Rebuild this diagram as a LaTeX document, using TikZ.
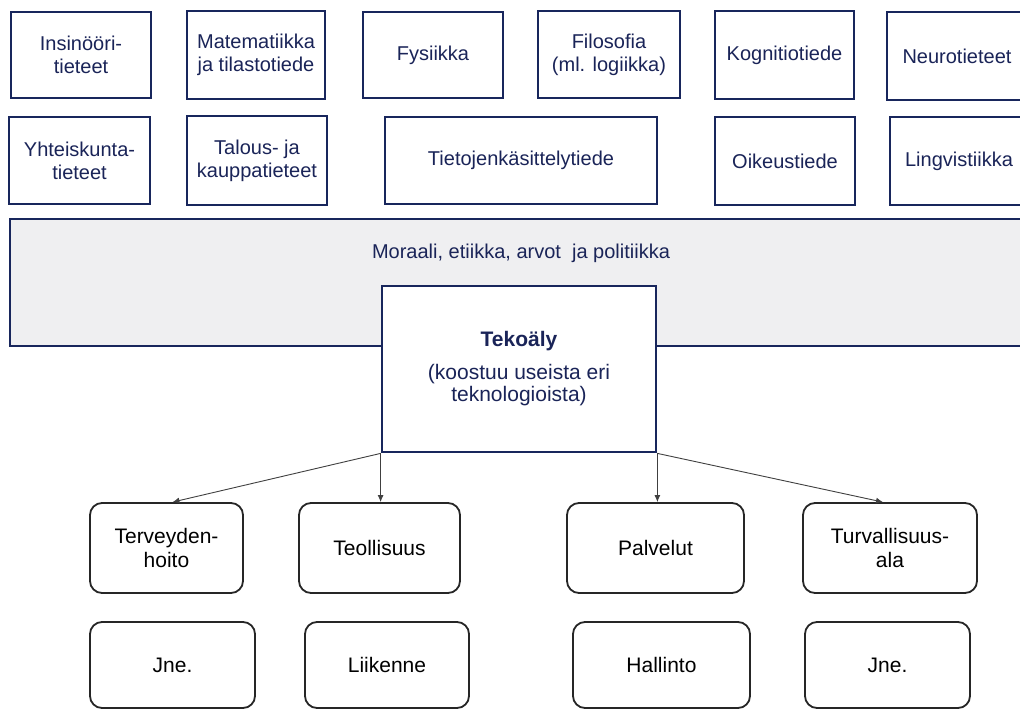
\documentclass[tikz,border=0pt]{standalone}
\usepackage{fontspec}
\setmainfont{Liberation Sans}
\usetikzlibrary{arrows.meta,calc}
\definecolor{navy}{RGB}{24,38,92}
\definecolor{navytext}{RGB}{26,36,88}
\definecolor{bandgray}{RGB}{239,239,241}
\tikzset{
  sci/.style={draw=navy, line width=2.8pt, fill=white, text=navytext, align=center,
    font=\fontsize{20}{23}\selectfont, inner sep=0pt},
  band/.style={draw=navy, line width=2.6pt, fill=bandgray, inner sep=0pt},
  bandtext/.style={text=navytext, font=\fontsize{20}{23}\selectfont, inner sep=0pt},
  core/.style={draw=navy, line width=2.8pt, fill=white, text=navytext, align=center,
    font=\fontsize{21}{22}\selectfont, inner sep=0pt},
  field/.style={draw=black!85, line width=1.8pt, rounded corners=12pt, fill=white, text=black,
    align=center, font=\fontsize{21}{24}\selectfont, inner sep=0pt},
  arr/.style={-{Latex[length=7pt,width=6pt]}, line width=0.9pt, draw=black!75}
}
\begin{document}
\begin{tikzpicture}[x=1pt,y=-1pt]
\useasboundingbox (0,0) rectangle (1020,709);
\clip (0,0) rectangle (1020,709);
\fill[white] (0,0) rectangle (1020,709);
% top row
\node[sci, minimum width=140, minimum height=86] (a1) at (81,55) {Insinööri-\\tieteet};
\node[sci, minimum width=138, minimum height=88] (a2) at (256,55) {Matematiikka\\ja tilastotiede};
\node[sci, minimum width=140, minimum height=86] (a3) at (433,55) {Fysiikka};
\node[sci, minimum width=142, minimum height=87] (a4) at (609,54.5) {Filosofia\\(ml. logiikka)};
\node[sci, minimum width=139, minimum height=88] (a5) at (784.5,55) {Kognitiotiede};
\node[sci, minimum width=140, minimum height=88] (a6) at (957,56) {Neurotieteet};
% second row
\node[sci, minimum width=141, minimum height=87] (b1) at (79.5,160.5) {Yhteiskunta-\\tieteet};
\node[sci, minimum width=140, minimum height=89] (b2) at (257,160.5) {Talous- ja\\kauppatieteet};
\node[sci, minimum width=272, minimum height=87] (b3) at (521,160.5) {Tietojenkäsittelytiede};
\node[sci, minimum width=140, minimum height=88] (b4) at (785,161) {Oikeustiede};
\node[sci, minimum width=138, minimum height=88] (b5) at (959,161) {Lingvistiikka};
% band
\node[band, minimum width=1025, minimum height=127] (bandbox) at (522.5,282.5) {};
\node[bandtext] (moral) at (521,253) {Moraali, etiikka, arvot~ ja politiikka};
% core
\node[core, minimum width=274, minimum height=166] (tek) at (519,369)
  {\textbf{Tekoäly}\\[11pt](koostuu useista eri\\teknologioista)};
% fields
\node[field, minimum width=153, minimum height=90] (c1) at (166.5,548) {Terveyden-\\hoito};
\node[field, minimum width=161, minimum height=90] (c2) at (379.5,548) {Teollisuus};
\node[field, minimum width=177, minimum height=90] (c3) at (655.5,548) {Palvelut};
\node[field, minimum width=174, minimum height=90] (c4) at (890,548) {Turvallisuus-\\ala};
\node[field, minimum width=165, minimum height=86] (d1) at (172.5,665) {Jne.};
\node[field, minimum width=164, minimum height=86] (d2) at (387,665) {Liikenne};
\node[field, minimum width=177, minimum height=86] (d3) at (661.5,665) {Hallinto};
\node[field, minimum width=165, minimum height=86] (d4) at (887.5,665) {Jne.};
% arrows
\draw[arr] (tek.south west) -- ($(c1.north)+(6,0)$);
\draw[arr] (tek.south west) -- (tek.south west |- c2.north);
\draw[arr] (tek.south east) -- (tek.south east |- c3.north);
\draw[arr] (tek.south east) -- ($(c4.north)+(-7,0)$);
\end{tikzpicture}
\end{document}
